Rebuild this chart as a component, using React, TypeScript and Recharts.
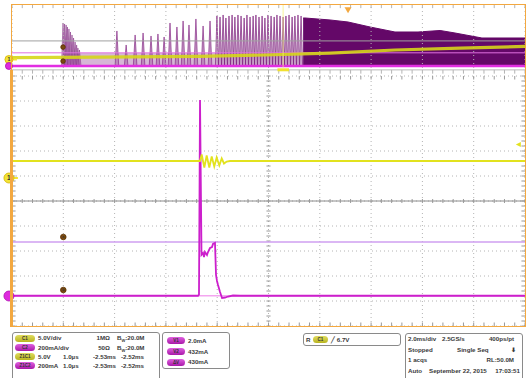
import React from 'react';
import { ComposedChart, Line, Area, XAxis, YAxis, ReferenceLine, ReferenceDot } from 'recharts';

// ---------------- Zoom window: 1.0 µs/div, time relative to zoom position ----------------
const ch1Time = [-5, -1.335, -1.302, -1.251, -1.205, -1.154, -1.107, -1.057, -1.01, -0.959, -0.912, -0.867, -0.815, -0.75, 5];
const ch1Volts = [3.4, 3.4, 4.7, 2.1, 4.5, 2.1, 4.3, 2.3, 4.1, 2.5, 3.9, 2.9, 3.3, 3.4, 3.4];
const ch2Time = [-5, -1.374, -1.355, -1.335, -1.306, -1.277, -1.257, -1.238, -1.199, -1.179, -1.14, -1.101, -1.082, -1.043, -1.023, -1.004, -0.984, -0.945, -0.906, -0.848, -0.789, -0.692, -0.556, 5];
const ch2MilliAmps = [2, 2, 10, 1568, 330, 344, 312, 352, 328, 352, 384, 392, 416, 424, 168, 120, 88, 32, -16, -12, -4, 4, 2, 2];
const cursorA = 432;
const cursorB = 2.0;
const triggerLevel = 6.7;

// ---------------- Record overview: 2.0 ms/div, time relative to trigger ----------------
const zoomPosition = -2.53;
const ovCh1Time = [-13.1, -9.67, -5.77, -3.24, -0.7, 1.83, 4.37, 6.9];
const ovCh1Volts = [1.6, 2.0, 2.5, 3.7, 5.3, 7.8, 9.4, 10.7];
const ovBurstTime = [-11.11, -11.05, -10.99, -10.94, -10.88, -10.82, -10.76, -10.7, -10.64, -10.58, -10.53, -10.47];
const ovBurstPeak = [1410, 1378, 1345, 1279, 1214, 1115, 1017, 918, 787, 689, 590, 525];
const ovPulseTime = [-9.01, -8.65, -8.3, -7.99, -7.68, -7.41, -7.17, -6.94, -6.67, -6.43, -6.2, -5.93, -5.65, -5.38];
const ovPulsePeak = [1148, 689, 1017, 1082, 984, 1050, 951, 1410, 1279, 1476, 1345, 1542, 1312, 1476];
const ovDenseTime = [-5.11, -4.99, -4.87, -4.76, -4.64, -4.52, -4.41, -4.29, -4.17, -4.05, -3.94, -3.82, -3.7, -3.59, -3.47, -3.35, -3.24, -3.12, -3.0, -2.88, -2.77, -2.65, -2.53, -2.42, -2.3, -2.18, -2.07, -1.95, -1.83];
const ovDensePeak = [1640, 1607, 1673, 1574, 1640, 1673, 1607, 1673, 1640, 1574, 1673, 1607, 1640, 1673, 1607, 1640, 1574, 1673, 1640, 1607, 1673, 1640, 1607, 1640, 1673, 1607, 1640, 1673, 1640];
const ovCombTime = [-11.11, -1.75];
const ovCombLevel = [430, 430];
const ovContTime = [-1.75, -1.68, -0.7, 0, 0.86, 1.83, 2.73, 3.59, 4.17, 5.22, 6.9];
const ovContPeak = [1574, 1574, 1509, 1443, 1279, 1115, 1115, 1164, 1082, 918, 918];
const ovBaseTime = [-13.1, 6.9];
const ovBaseLevel = [0, 0];

// ---------------- helpers ----------------
const zip = (ts: number[], vs: number[]) => ts.map((t, i) => ({ t, v: vs[i] }));
const spikes = (ts: number[], vs: number[], half: number) =>
  ts.flatMap((t, i) => [{ t: t - half, v: 0 }, { t, v: vs[i] }, { t: t + half, v: 0 }]);
const steps = (a: number, b: number, s: number) => {
  const out: number[] = [];
  for (let x = a; x <= b + 1e-9; x += s) out.push(Math.round(x * 1000) / 1000);
  return out;
};

const YEL = '#e2e21e';
const MAG = '#cc1fcc';
const ORANGE = '#f3a840';
const GRID = '#b4b4b4';
const TICK = '#9a9a9a';
const FONT = '"Liberation Sans", Arial, sans-serif';

const mainDivs = steps(-5, 5, 1);
const mainMinor = steps(-5, 5, 0.2);
const ovDivsT = steps(-13.1, 6.9, 2);
const ovMinorT = steps(-13.1, 6.9, 0.4);

function marker(fill: string, stroke: string, text: string, r: number, tail: boolean) {
  return (p: any) => (
    <g>
      {tail ? <line x1={p.cx} y1={p.cy} x2={p.cx + r + 4} y2={p.cy} stroke={fill} strokeWidth={2} /> : null}
      <circle cx={p.cx} cy={p.cy} r={r} fill={fill} stroke={stroke} strokeWidth={0.8} />
      {text ? (
        <text x={p.cx} y={p.cy + r * 0.45} textAnchor="middle" fontSize={r * 1.3} fontWeight="bold" fill="#333" fontFamily={FONT}>
          {text}
        </text>
      ) : null}
    </g>
  );
}

const triangleDown = (p: any) => (
  <path d={`M${p.cx - 3.5},${p.cy - 3} L${p.cx + 3.5},${p.cy - 3} L${p.cx},${p.cy + 3} Z`} fill={ORANGE} />
);
const triangleLeft = (p: any) => (
  <path d={`M${p.cx + 3},${p.cy - 2.5} L${p.cx + 3},${p.cy + 2.5} L${p.cx - 2},${p.cy} Z`} fill={YEL} />
);

function Overview() {
  return (
    <div style={{ position: 'absolute', left: 0, top: 0 }}>
      <ComposedChart width={530} height={80} margin={{ top: 5, right: 5, bottom: 12, left: 12 }}>
        <XAxis xAxisId="t" type="number" dataKey="t" domain={[-13.1, 6.9]} hide allowDataOverflow />
        <YAxis yAxisId="div" type="number" domain={[-5, 5]} hide allowDataOverflow />
        <YAxis yAxisId="i" type="number" domain={[-66, 2000]} hide allowDataOverflow />
        <YAxis yAxisId="v" type="number" domain={[-6.97, 44.67]} hide allowDataOverflow />
        {ovDivsT.map((t) => (
          <ReferenceLine key={'ovx' + t} xAxisId="t" yAxisId="div" x={t} stroke={GRID} strokeDasharray="1 3" />
        ))}
        <ReferenceLine xAxisId="t" yAxisId="div" y={-0.7} stroke="#a0a0a0" />
        {ovMinorT.map((t) => (
          <ReferenceLine key={'ovtt' + t} xAxisId="t" yAxisId="div" segment={[{ x: t, y: 5 }, { x: t, y: 4.5 }]} stroke={GRID} />
        ))}
        {ovMinorT.map((t) => (
          <ReferenceLine key={'ovtb' + t} xAxisId="t" yAxisId="div" segment={[{ x: t, y: -5.3 }, { x: t, y: -5.9 }]} stroke={GRID} ifOverflow="visible" />
        ))}
        <ReferenceLine xAxisId="t" yAxisId="div" segment={[{ x: -13.1, y: -5.3 }, { x: 6.9, y: -5.3 }]} stroke="#b8b8b8" ifOverflow="visible" />
        <Area xAxisId="t" yAxisId="i" data={zip(ovCombTime, ovCombLevel)} dataKey="v" type="linear" baseValue={0} fill="#b57ab5" fillOpacity={0.55} stroke="none" isAnimationActive={false} />
        <ReferenceLine xAxisId="t" yAxisId="i" y={cursorA} stroke="#e070e0" strokeWidth={1} />
        <Area xAxisId="t" yAxisId="i" data={spikes(ovBurstTime, ovBurstPeak, 0.06)} dataKey="v" type="linear" baseValue={0} fill="#b47cb4" fillOpacity={0.75} stroke="#8c3a8c" strokeWidth={0.6} isAnimationActive={false} />
        <Area xAxisId="t" yAxisId="i" data={spikes(ovPulseTime, ovPulsePeak, 0.07)} dataKey="v" type="linear" baseValue={0} fill="#b47cb4" fillOpacity={0.8} stroke="#8a2f8a" strokeWidth={0.7} isAnimationActive={false} />
        <Area xAxisId="t" yAxisId="i" data={spikes(ovDenseTime, ovDensePeak, 0.06)} dataKey="v" type="linear" baseValue={0} fill="#c49ac4" fillOpacity={0.8} stroke="#7c1f7c" strokeWidth={0.7} isAnimationActive={false} />
        <Area xAxisId="t" yAxisId="i" data={zip(ovContTime, ovContPeak)} dataKey="v" type="linear" baseValue={0} fill="#640868" fillOpacity={1} stroke="#640868" strokeWidth={1} isAnimationActive={false} />
        <Line xAxisId="t" yAxisId="i" data={zip(ovBaseTime, ovBaseLevel)} dataKey="v" stroke="#e22ee2" strokeWidth={2.5} dot={false} activeDot={false} isAnimationActive={false} />
        <Line xAxisId="t" yAxisId="v" data={zip(ovCh1Time, ovCh1Volts)} dataKey="v" type="linear" stroke="#d6d61a" strokeOpacity={0.9} strokeWidth={3.2} dot={false} activeDot={false} isAnimationActive={false} />
        <ReferenceLine xAxisId="t" yAxisId="i" x={zoomPosition} stroke="#f3f070" strokeOpacity={0.7} />
        <ReferenceLine xAxisId="t" yAxisId="i" segment={[{ x: -2.75, y: -125 }, { x: -2.3, y: -125 }]} stroke="#f0e030" strokeWidth={3} ifOverflow="visible" />
        <ReferenceDot xAxisId="t" yAxisId="i" x={0} y={1830} ifOverflow="visible" shape={triangleDown} />
        <ReferenceDot xAxisId="t" yAxisId="v" x={-13.22} y={0} ifOverflow="visible" shape={marker('#f2e436', '#d4b400', '1', 4, true)} />
        <ReferenceDot xAxisId="t" yAxisId="i" x={-13.22} y={0} ifOverflow="visible" shape={marker('#de2ade', '#b010b0', '', 3.5, false)} />
        <ReferenceDot xAxisId="t" yAxisId="i" x={-11.11} y={620} ifOverflow="visible" shape={marker('#7a4a10', '#5a3000', '', 2.3, false)} />
        <ReferenceDot xAxisId="t" yAxisId="i" x={-11.11} y={160} ifOverflow="visible" shape={marker('#7a4a10', '#5a3000', '', 2.3, false)} />
      </ComposedChart>
    </div>
  );
}

function Main() {
  return (
    <div style={{ position: 'absolute', left: 0, top: 70 }}>
      <ComposedChart width={530} height={262} margin={{ top: 6, right: 5, bottom: 6, left: 12 }}>
        <XAxis xAxisId="t" type="number" dataKey="t" domain={[-5, 5]} hide allowDataOverflow />
        <YAxis yAxisId="div" type="number" domain={[-5, 5]} hide allowDataOverflow />
        <YAxis yAxisId="v" type="number" domain={[-29.6, 20.4]} hide allowDataOverflow />
        <YAxis yAxisId="i" type="number" domain={[-240, 1760]} hide allowDataOverflow />
        {mainDivs.map((d) => (
          <ReferenceLine key={'gx' + d} xAxisId="t" yAxisId="div" x={d} stroke={GRID} strokeDasharray="1 3" />
        ))}
        {mainDivs.map((d) => (
          <ReferenceLine key={'gy' + d} xAxisId="t" yAxisId="div" y={d} stroke={GRID} strokeDasharray="1 3" />
        ))}
        <ReferenceLine xAxisId="t" yAxisId="div" y={0} stroke="#8c8c8c" />
        {mainMinor.map((d) => (
          <ReferenceLine key={'tc' + d} xAxisId="t" yAxisId="div" segment={[{ x: d, y: -0.08 }, { x: d, y: 0.08 }]} stroke={TICK} />
        ))}
        {mainMinor.map((d) => (
          <ReferenceLine key={'tv' + d} xAxisId="t" yAxisId="div" segment={[{ x: -0.04, y: d }, { x: 0.04, y: d }]} stroke={TICK} />
        ))}
        {mainMinor.map((d) => (
          <ReferenceLine key={'tt' + d} xAxisId="t" yAxisId="div" segment={[{ x: d, y: 5 }, { x: d, y: 4.86 }]} stroke={TICK} />
        ))}
        {mainMinor.map((d) => (
          <ReferenceLine key={'tb' + d} xAxisId="t" yAxisId="div" segment={[{ x: d, y: -5 }, { x: d, y: -4.86 }]} stroke={TICK} />
        ))}
        {mainMinor.map((d) => (
          <ReferenceLine key={'tl' + d} xAxisId="t" yAxisId="div" segment={[{ x: -5, y: d }, { x: -4.93, y: d }]} stroke={TICK} />
        ))}
        {mainMinor.map((d) => (
          <ReferenceLine key={'tr' + d} xAxisId="t" yAxisId="div" segment={[{ x: 5, y: d }, { x: 4.93, y: d }]} stroke={TICK} />
        ))}
        <ReferenceLine xAxisId="t" yAxisId="i" y={cursorB} stroke="#f4a6f0" strokeWidth={1.3} />
        <ReferenceLine xAxisId="t" yAxisId="i" y={cursorA} stroke="#cf9ff0" strokeWidth={1.3} />
        <Line xAxisId="t" yAxisId="i" data={zip(ch2Time, ch2MilliAmps)} dataKey="v" type="linear" stroke={MAG} strokeWidth={1.8} dot={false} activeDot={false} isAnimationActive={false} />
        <Line xAxisId="t" yAxisId="v" data={zip(ch1Time, ch1Volts)} dataKey="v" type="linear" stroke={YEL} strokeWidth={1.8} dot={false} activeDot={false} isAnimationActive={false} />
        <ReferenceDot xAxisId="t" yAxisId="v" x={-5.06} y={0} ifOverflow="visible" shape={marker('#f2e436', '#d4b400', '1', 5, true)} />
        <ReferenceDot xAxisId="t" yAxisId="i" x={-5.06} y={0} ifOverflow="visible" shape={marker('#de2ade', '#b010b0', '', 5, false)} />
        <ReferenceDot xAxisId="t" yAxisId="i" x={-4.0} y={cursorA + 40} ifOverflow="visible" shape={marker('#7a4a10', '#5a3000', 'a', 2.8, false)} />
        <ReferenceDot xAxisId="t" yAxisId="i" x={-4.0} y={cursorB + 46} ifOverflow="visible" shape={marker('#7a4a10', '#5a3000', 'b', 2.8, false)} />
        <ReferenceDot xAxisId="t" yAxisId="v" x={4.86} y={triggerLevel} ifOverflow="visible" shape={triangleLeft} />
      </ComposedChart>
    </div>
  );
}

const T = ({ x, y, children, w, align }: { x: number; y: number; children: React.ReactNode; w?: number; align?: 'left' | 'right' | 'center' }) => (
  <div
    style={{
      position: 'absolute',
      left: align === 'right' ? x - (w || 40) : x,
      top: y - 4,
      width: w || (align === 'right' ? 40 : undefined),
      textAlign: align || 'left',
      fontSize: 6.2,
      lineHeight: '8px',
      fontWeight: 'bold',
      color: '#3a3a3a',
      whiteSpace: 'nowrap',
      fontFamily: FONT,
    }}
  >
    {children}
  </div>
);

const Badge = ({ x, y, w, bg, text }: { x: number; y: number; w: number; bg: string; text: string }) => (
  <div
    style={{
      position: 'absolute',
      left: x,
      top: y - 3.5,
      width: w,
      height: 7,
      borderRadius: 4,
      background: bg,
      fontSize: 4.5,
      lineHeight: '7px',
      textAlign: 'center',
      fontWeight: 'bold',
      color: '#333',
      fontFamily: FONT,
    }}
  >
    {text}
  </div>
);

const Box = ({ x, y, w, h }: { x: number; y: number; w: number; h: number }) => (
  <div style={{ position: 'absolute', left: x, top: y, width: w, height: h, border: '1px solid #8a8a8a', borderRadius: 3, boxSizing: 'border-box' }} />
);

const Bw = () => (
  <span>
    B<sub style={{ fontSize: 4, verticalAlign: 'sub' }}>W</sub>:20.0M
  </span>
);

const YB = 'linear-gradient(#e0dc60, #b8b420)';
const MB = 'linear-gradient(#e060e0, #a818a8)';

function Panel() {
  return (
    <div>
      <Box x={12} y={332} w={148} h={50} />
      <Box x={162} y={332} w={68} h={37} />
      <Box x={303} y={333} w={98} h={13} />
      <Box x={405} y={333} w={118} h={50} />
      <Badge x={15} y={338} w={20} bg={YB} text="C1" />
      <Badge x={15} y={347.5} w={20} bg={MB} text="C2" />
      <Badge x={15} y={356.5} w={20} bg={YB} text="Z1C1" />
      <Badge x={15} y={365.5} w={20} bg={MB} text="Z1C2" />
      <T x={38} y={338}>5.0V/div</T>
      <T x={38} y={347.5}>200mA/div</T>
      <T x={38} y={356.5}>5.0V</T>
      <T x={38} y={365.5}>200mA</T>
      <T x={110} y={338} align="right">1MΩ</T>
      <T x={110} y={347.5} align="right">50Ω</T>
      <T x={117} y={338}><Bw /></T>
      <T x={117} y={347.5}><Bw /></T>
      <T x={63} y={356.5}>1.0µs</T>
      <T x={63} y={365.5}>1.0µs</T>
      <T x={93} y={356.5}>-2.53ms</T>
      <T x={93} y={365.5}>-2.53ms</T>
      <T x={121} y={356.5}>-2.52ms</T>
      <T x={121} y={365.5}>-2.52ms</T>
      <Badge x={167} y={340.5} w={18} bg={MB} text="V1" />
      <Badge x={167} y={351.5} w={18} bg={MB} text="V2" />
      <Badge x={167} y={362} w={18} bg={MB} text="ΔV" />
      <T x={188} y={340.5}>2.0mA</T>
      <T x={188} y={351.5}>432mA</T>
      <T x={188} y={362}>430mA</T>
      <T x={306} y={339.5}>R</T>
      <Badge x={313} y={339.5} w={15} bg={YB} text="C1" />
      <T x={331} y={339.5}>╱ 6.7V</T>
      <T x={408} y={339}>2.0ms/div</T>
      <T x={442} y={339}>2.5GS/s</T>
      <T x={514} y={339} align="right">400ps/pt</T>
      <T x={408} y={349.5}>Stopped</T>
      <T x={457} y={349.5}>Single Seq</T>
      <T x={511} y={349.5}>⬇</T>
      <T x={408} y={360}>1 acqs</T>
      <T x={514} y={360} align="right">RL:50.0M</T>
      <T x={408} y={371}>Auto</T>
      <T x={429} y={371}>September 22, 2015</T>
      <T x={520} y={371} align="right">17:03:51</T>
    </div>
  );
}

export default function App() {
  return (
    <div style={{ position: 'absolute', left: 0, top: 0, width: 530, height: 378, background: '#fff', overflow: 'hidden', fontFamily: FONT }}>
      <Overview />
      <Main />
      <div style={{ position: 'absolute', left: 11, top: 4, width: 515, height: 323, border: `1.5px solid ${ORANGE}`, boxSizing: 'border-box', pointerEvents: 'none' }} />
      <div style={{ position: 'absolute', left: 10, top: 70, width: 3, height: 257, background: ORANGE, pointerEvents: 'none' }} />
      <Panel />
    </div>
  );
}
